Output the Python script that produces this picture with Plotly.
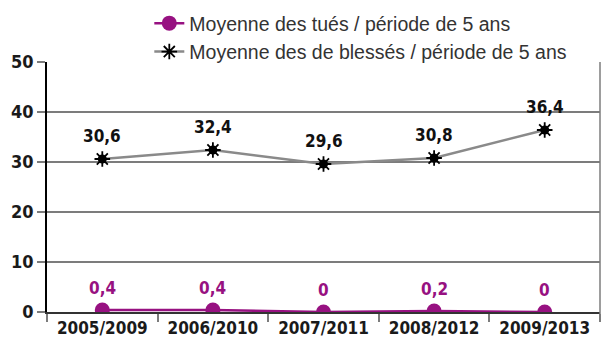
import plotly.graph_objects as go

# Five-year rolling periods and the averages for each period
periods = ["2005/2009", "2006/2010", "2007/2011", "2008/2012", "2009/2013"]
tues = [0.4, 0.4, 0, 0.2, 0]
blesses = [30.6, 32.4, 29.6, 30.8, 36.4]

name_tues = "Moyenne des tués / période de 5 ans"
name_blesses = "Moyenne des de blessés / période de 5 ans"

PURPLE = "#971181"
GREY_LINE = "#8a8a8a"
GRID = "#7c7c7c"
NARROW = "Liberation Sans Narrow, Arial Narrow, DejaVu Sans Condensed, sans-serif"


def fr(v):
    return ("%g" % v).replace(".", ",")


fig = go.Figure()

fig.add_trace(go.Scatter(
    x=periods, y=tues, name=name_tues, mode="lines+markers",
    line=dict(color=PURPLE, width=2.5),
    marker=dict(symbol="circle", size=15, color=PURPLE),
))
fig.add_trace(go.Scatter(
    x=periods, y=blesses, name=name_blesses, mode="lines+markers",
    line=dict(color=GREY_LINE, width=2.5),
    marker=dict(symbol="asterisk-open", size=13, color="black",
                line=dict(color="black", width=1.8)),
))
# solid core of the starburst markers
fig.add_trace(go.Scatter(
    x=periods, y=blesses, mode="markers", showlegend=False, hoverinfo="skip",
    marker=dict(symbol="circle", size=9, color="black"),
))

# value labels above each point
for p, v in zip(periods, blesses):
    fig.add_annotation(x=p, y=v, text="<b>%s</b>" % fr(v), showarrow=False,
                       yanchor="bottom", yshift=11,
                       font=dict(family=NARROW, size=17, color="#111"))
for p, v in zip(periods, tues):
    fig.add_annotation(x=p, y=v, text="<b>%s</b>" % fr(v), showarrow=False,
                       yanchor="bottom", yshift=10,
                       font=dict(family=NARROW, size=17, color=PURPLE))

# right-hand frame line
fig.add_shape(type="line", xref="paper", yref="paper", x0=1, x1=1, y0=-0.03, y1=1,
              line=dict(color=GRID, width=1.5))

fig.update_layout(
    width=602, height=337,
    margin=dict(l=47, r=2, t=62, b=25, autoexpand=False),
    paper_bgcolor="white", plot_bgcolor="white",
    showlegend=True,
    legend=dict(
        x=0.185, xanchor="left", y=1.232, yanchor="top",
        font=dict(family="Liberation Sans", size=19.5, color="#333"),
        bgcolor="rgba(0,0,0,0)", tracegroupgap=0, itemwidth=30,
    ),
    xaxis=dict(
        type="category", range=[-0.5, 4.5], automargin=False, tickangle=0,
        showgrid=False, zeroline=False,
        showline=True, linecolor="#333", linewidth=1.5,
        ticks="outside", tickson="boundaries", ticklen=8, tickcolor=GRID, tickwidth=1.5,
        tickfont=dict(family=NARROW, size=17, color="#1a1a1a", weight="bold"),
    ),
    yaxis=dict(
        range=[0, 50], tickvals=[0, 10, 20, 30, 40, 50], automargin=False,
        showgrid=True, gridcolor=GRID, gridwidth=1.5, zeroline=False,
        showline=True, linecolor="black", linewidth=1.5,
        ticks="outside", ticklen=8, tickcolor=GRID, tickwidth=1.5,
        tickfont=dict(family=NARROW, size=18, color="#1a1a1a", weight="bold"),
    ),
)

fig.write_html("out.html")
